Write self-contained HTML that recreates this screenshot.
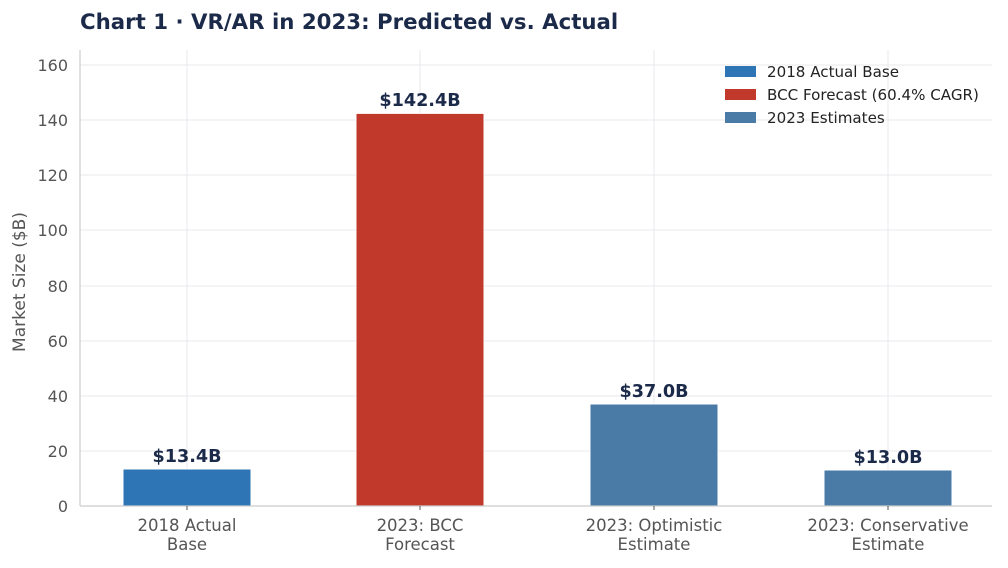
<!DOCTYPE html>
<html><head><meta charset="utf-8"><style>
html,body{margin:0;padding:0;background:#fff;}
svg{display:block;font-family:"DejaVu Sans","Liberation Sans",sans-serif;}
</style></head><body>
<svg width="1008" height="568" viewBox="0 0 1008 568" xmlns="http://www.w3.org/2000/svg">
<text x="80" y="29" font-size="21.3" font-weight="bold" fill="#1c2a4a">Chart 1 · VR/AR in 2023: Predicted vs. Actual</text>
<g stroke="#e8e8ee" stroke-width="1">
<line x1="80" x2="992" y1="451" y2="451"/>
<line x1="80" x2="992" y1="396" y2="396"/>
<line x1="80" x2="992" y1="341" y2="341"/>
<line x1="80" x2="992" y1="286" y2="286"/>
<line x1="80" x2="992" y1="230" y2="230"/>
<line x1="80" x2="992" y1="175" y2="175"/>
<line x1="80" x2="992" y1="120" y2="120"/>
<line x1="80" x2="992" y1="65" y2="65"/>
<line x1="187" x2="187" y1="50" y2="506"/>
<line x1="420" x2="420" y1="50" y2="506"/>
<line x1="654" x2="654" y1="50" y2="506"/>
<line x1="888" x2="888" y1="50" y2="506"/>
</g>
<g stroke="#fff" stroke-width="1">
<rect x="123" y="469" width="128" height="37" fill="#2e75b6"/>
<rect x="356" y="113.4" width="128" height="392.6" fill="#c0392b"/>
<rect x="590" y="404" width="128" height="102" fill="#4a7ba7"/>
<rect x="824" y="470" width="128" height="36" fill="#4a7ba7"/>
</g>
<line x1="80" x2="80" y1="50" y2="506" stroke="#ccc" stroke-width="1.2"/>
<line x1="80" x2="992" y1="506" y2="506" stroke="#ccc" stroke-width="1.2"/>
<g stroke="#555" stroke-width="1">
<line x1="187" x2="187" y1="506" y2="510"/><line x1="420" x2="420" y1="506" y2="510"/>
<line x1="654" x2="654" y1="506" y2="510"/><line x1="888" x2="888" y1="506" y2="510"/>
</g>
<g font-size="16" fill="#555" text-anchor="end">
<text x="68" y="512">0</text><text x="68" y="457">20</text><text x="68" y="402">40</text>
<text x="68" y="347">60</text><text x="68" y="292">80</text><text x="68" y="236">100</text>
<text x="68" y="181">120</text><text x="68" y="126">140</text><text x="68" y="71">160</text>
</g>
<text transform="translate(25,282) rotate(-90)" font-size="17" fill="#555" text-anchor="middle">Market Size ($B)</text>
<g font-size="16.5" fill="#555" text-anchor="middle">
<text x="187" y="531">2018 Actual</text><text x="187" y="550">Base</text>
<text x="420" y="531">2023: BCC</text><text x="420" y="550">Forecast</text>
<text x="654" y="531">2023: Optimistic</text><text x="654" y="550">Estimate</text>
<text x="888" y="531">2023: Conservative</text><text x="888" y="550">Estimate</text>
</g>
<g font-size="17.6" font-weight="bold" fill="#1c2a4a" text-anchor="middle">
<text x="187" y="462">$13.4B</text>
<text x="420" y="106">$142.4B</text>
<text x="654" y="397">$37.0B</text>
<text x="888" y="463">$13.0B</text>
</g>
<rect x="725" y="66" width="31" height="11" fill="#2e75b6"/>
<rect x="725" y="89" width="31" height="11" fill="#c0392b"/>
<rect x="725" y="112" width="31" height="11" fill="#4a7ba7"/>
<g font-size="15.1" fill="#222">
<text x="767" y="77">2018 Actual Base</text>
<text x="767" y="100">BCC Forecast (60.4% CAGR)</text>
<text x="767" y="123">2023 Estimates</text>
</g>
</svg>
</body></html>
